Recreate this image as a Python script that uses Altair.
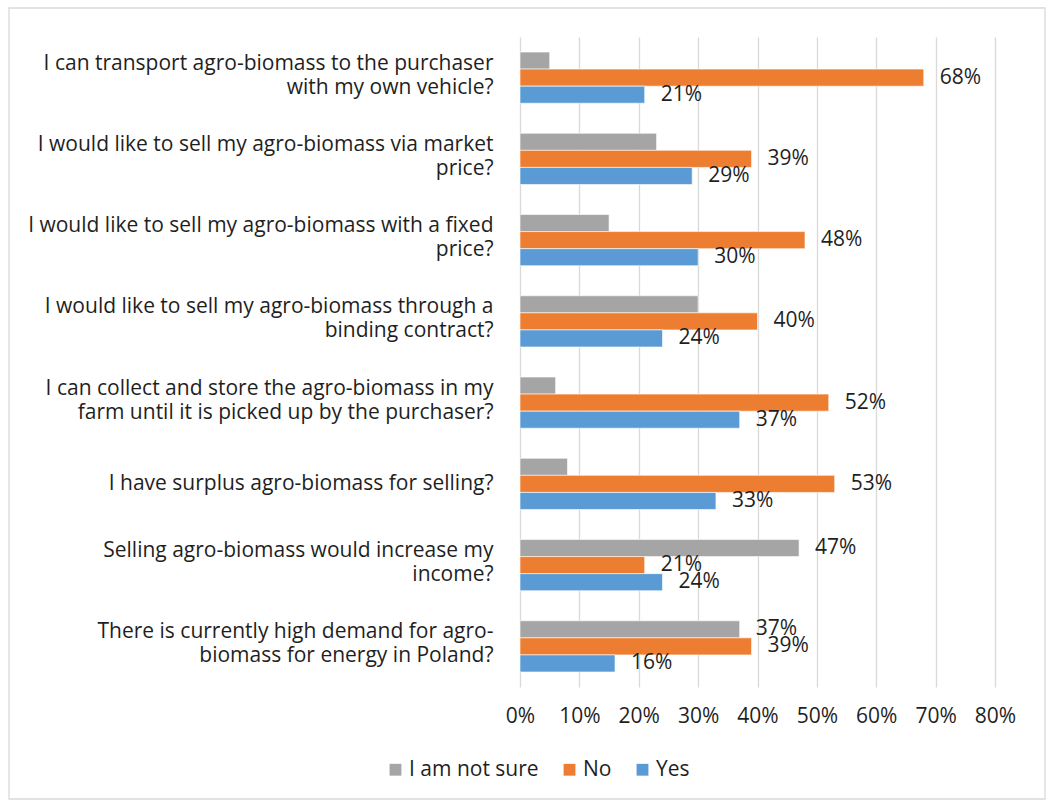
import altair as alt
import pandas as pd

# Survey questions (line breaks as drawn on the axis)
questions = [
    "I can transport agro-biomass to the purchaser\nwith my own vehicle?",
    "I would like to sell my agro-biomass via market\nprice?",
    "I would like to sell my agro-biomass with a fixed\nprice?",
    "I would like to sell my agro-biomass through a\nbinding contract?",
    "I can collect and store the agro-biomass in my\nfarm until it is picked up by the purchaser?",
    "I have surplus agro-biomass for selling?",
    "Selling agro-biomass would increase my\nincome?",
    "There is currently high demand for agro-\nbiomass for energy in Poland?",
]

series = ["I am not sure", "No", "Yes"]
colors = ["#A5A5A5", "#ED7D31", "#5B9BD5"]

not_sure = [0.05, 0.23, 0.15, 0.30, 0.06, 0.08, 0.47, 0.37]
no = [0.68, 0.39, 0.48, 0.40, 0.52, 0.53, 0.21, 0.39]
yes = [0.21, 0.29, 0.30, 0.24, 0.37, 0.33, 0.24, 0.16]

# "I am not sure" values are labelled only for these questions
labelled_not_sure = [questions[6], questions[7]]

rows = []
for name, vals in zip(series, [not_sure, no, yes]):
    for q, v in zip(questions, vals):
        show = name != "I am not sure" or q in labelled_not_sure
        rows.append({"question": q, "answer": name, "share": v, "show": show})
df = pd.DataFrame(rows)

FONT = "Open Sans"
FS = 21
TEXT = "#1f1f1f"
W, H = 475, 650
LEFT, TOP = 520, 37

y_enc = alt.Y(
    "question:N",
    sort=questions,
    scale=alt.Scale(paddingInner=0.37, paddingOuter=0.185),
    axis=alt.Axis(
        title=None,
        domain=False,
        ticks=False,
        labelExpr="split(datum.label, '\\n')",
        labelFont=FONT,
        labelFontSize=FS,
        labelColor=TEXT,
        labelLineHeight=24,
        labelPadding=27,
        labelLimit=700,
        labelAlign="right",
        labelBaseline="middle",
        # two-line questions are centred on their group
        labelOffset={
            "condition": {"test": "indexof(datum.value, '\\n') >= 0", "value": -14},
            "value": 0,
        },
    ),
)
x_enc = alt.X(
    "share:Q",
    scale=alt.Scale(domain=[0, 0.8], nice=False),
    axis=alt.Axis(
        title=None,
        values=[i / 10 for i in range(9)],
        format=".0%",
        domain=False,
        ticks=False,
        grid=True,
        gridColor="#D9D9D9",
        gridWidth=1.3,
        labelFont=FONT,
        labelFontSize=FS,
        labelColor=TEXT,
        labelPadding=18,
        labelFlush=False,
    ),
)
yoff = alt.YOffset("answer:N", sort=series, scale=alt.Scale(paddingInner=0, paddingOuter=0))

bars = alt.Chart(df).mark_bar(stroke="white", strokeWidth=0.6).encode(
    y=y_enc,
    x=x_enc,
    yOffset=yoff,
    color=alt.Color(
        "answer:N",
        sort=series,
        scale=alt.Scale(domain=series, range=colors),
        legend=alt.Legend(
            title=None,
            orient="none",
            direction="horizontal",
            legendX=-135,
            legendY=722,
            symbolType="square",
            symbolSize=140,
            symbolStrokeWidth=0,
            labelFont=FONT,
            labelFontSize=FS,
            labelColor=TEXT,
            columnPadding=20,
            labelOffset=3,
        ),
    ),
)

labels = alt.Chart(df).transform_filter("datum.show").mark_text(
    align="left", baseline="middle", dx=16, font=FONT, fontSize=FS, color=TEXT
).encode(
    y=alt.Y("question:N", sort=questions),
    x=alt.X("share:Q"),
    yOffset=alt.YOffset("answer:N", sort=series),
    text=alt.Text("share:Q", format=".0%"),
)

frame = alt.Chart(pd.DataFrame({"k": [0]})).mark_rect(
    fillOpacity=0, stroke="#D9D9D9", strokeWidth=1.3
).encode(
    x=alt.value(9 - LEFT),
    x2=alt.value(1045 - LEFT),
    y=alt.value(8 - TOP),
    y2=alt.value(799 - TOP),
)

chart = (
    alt.layer(frame, bars, labels)
    .properties(
        width=W,
        height=H,
        autosize=alt.AutoSizeParams(type="none"),
        padding={"left": LEFT, "top": TOP, "right": 1048 - LEFT - W, "bottom": 802 - TOP - H},
        background="white",
    )
    .configure_view(stroke=None)
)

chart.save("out.html", embed_options={"renderer": "svg", "actions": False})
